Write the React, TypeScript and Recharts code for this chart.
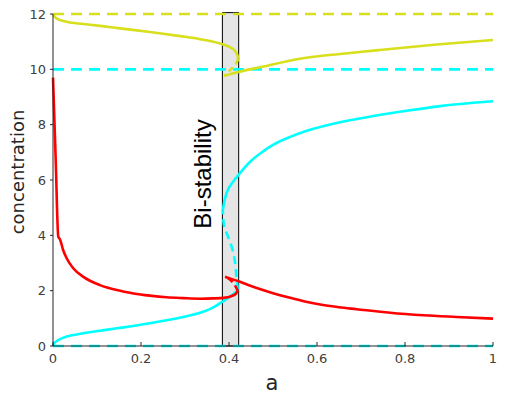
import { Line, LineChart, ReferenceArea, XAxis, YAxis } from 'recharts';

// bifurcation diagram, concentration vs a
const xTicks = [0, 0.2, 0.4, 0.6, 0.8, 1];
const yTicks = [0, 2, 4, 6, 8, 10, 12];

const redStableLowA = [0, 0.006, 0.012, 0.016, 0.023, 0.031, 0.046, 0.069, 0.107, 0.145, 0.183, 0.22, 0.258, 0.296, 0.334, 0.364, 0.387, 0.405, 0.415, 0.42];
const redStableLowC = [9.7, 6.8, 3.95, 3.85, 3.47, 3.17, 2.81, 2.5, 2.2, 2.02, 1.9, 1.82, 1.76, 1.73, 1.71, 1.72, 1.74, 1.8, 1.88, 2.0];
const redUnstableA = [0.42, 0.413, 0.402, 0.391];
const redUnstableC = [2.0, 2.2, 2.4, 2.5];
const redStableHighA = [0.391, 0.4, 0.425, 0.45, 0.47, 0.5, 0.539, 0.575, 0.614, 0.65, 0.69, 0.766, 0.842, 0.917, 1.0];
const redStableHighC = [2.5, 2.45, 2.32, 2.17, 2.06, 1.91, 1.74, 1.6, 1.48, 1.4, 1.33, 1.2, 1.11, 1.05, 0.99];

const cyanStableLowA = [0, 0.003, 0.008, 0.016, 0.031, 0.069, 0.107, 0.145, 0.182, 0.22, 0.258, 0.296, 0.334, 0.36, 0.38, 0.4, 0.41, 0.42];
const cyanStableLowC = [0, 0.1, 0.17, 0.25, 0.34, 0.46, 0.55, 0.64, 0.72, 0.82, 0.93, 1.05, 1.2, 1.36, 1.55, 1.75, 1.88, 2.02];
const cyanUnstableA = [0.42, 0.417, 0.414, 0.406, 0.395, 0.388, 0.386];
const cyanUnstableC = [2.02, 2.5, 2.99, 3.59, 4.07, 4.43, 4.9];
const cyanStableHighA = [0.386, 0.389, 0.395, 0.41, 0.425, 0.448, 0.47, 0.5, 0.539, 0.577, 0.652, 0.728, 0.803, 0.88, 0.955, 1.0];
const cyanStableHighC = [4.9, 5.2, 5.55, 5.95, 6.25, 6.66, 6.95, 7.27, 7.56, 7.78, 8.09, 8.31, 8.5, 8.67, 8.79, 8.85];

const yellowStableHighA = [0, 0.004, 0.008, 0.031, 0.069, 0.107, 0.152, 0.22, 0.289, 0.334, 0.38, 0.402, 0.413, 0.419, 0.421];
const yellowStableHighC = [12.0, 11.9, 11.84, 11.72, 11.64, 11.57, 11.48, 11.35, 11.2, 11.09, 10.93, 10.8, 10.68, 10.52, 10.38];
const yellowUnstableA = [0.421, 0.419, 0.41, 0.395, 0.389];
const yellowUnstableC = [10.38, 10.3, 10.1, 9.86, 9.76];
const yellowStableLowA = [0.389, 0.421, 0.478, 0.546, 0.607, 0.68, 0.743, 0.872, 1.0];
const yellowStableLowC = [9.76, 9.9, 10.1, 10.34, 10.48, 10.6, 10.7, 10.9, 11.06];

// limiting / trivial branches (unstable, dashed)
const flatA = [0, 1];
const yellowLimitC = [12, 12];
const cyanLimitC = [10, 10];
const cyanZeroC = [0, 0];

const bistableFrom = 0.385;
const bistableTo = 0.422;
const bistableTop = 12.05;

const pts = (a: number[], c: number[]) => a.map((v, i) => ({ a: v, c: c[i] }));

const RED = '#ff0000';
const CYAN = '#00ffff';
const YELLOW = '#d8df1c';
const AXIS = '#262626';

const XTick = (props: any) => {
  const { x, y, payload } = props;
  return (
    <g>
      <line x1={x} x2={x} y1={y} y2={y - 4} stroke={AXIS} />
      <text x={x} y={y + 17} textAnchor="middle" fontSize={13} fill="#404040" fontFamily="DejaVu Sans">
        {payload.value}
      </text>
    </g>
  );
};

const series = [
  { id: 'yl', a: flatA, c: yellowLimitC, color: YELLOW, dash: '11 7' },
  { id: 'cl', a: flatA, c: cyanLimitC, color: CYAN, dash: '11 7' },
  { id: 'cz', a: flatA, c: cyanZeroC, color: CYAN, dash: '11 7' },
  { id: 'ys1', a: yellowStableHighA, c: yellowStableHighC, color: YELLOW },
  { id: 'yu', a: yellowUnstableA, c: yellowUnstableC, color: YELLOW, dash: '6 4' },
  { id: 'ys2', a: yellowStableLowA, c: yellowStableLowC, color: YELLOW },
  { id: 'cs1', a: cyanStableLowA, c: cyanStableLowC, color: CYAN },
  { id: 'cu', a: cyanUnstableA, c: cyanUnstableC, color: CYAN, dash: '8 5' },
  { id: 'cs2', a: cyanStableHighA, c: cyanStableHighC, color: CYAN },
  { id: 'rs1', a: redStableLowA, c: redStableLowC, color: RED },
  { id: 'ru', a: redUnstableA, c: redUnstableC, color: RED, dash: '6 4' },
  { id: 'rs2', a: redStableHighA, c: redStableHighC, color: RED },
];

export default function App() {
  return (
    <div style={{ position: 'absolute', left: 0, top: 0 }}>
      <LineChart width={508} height={394} margin={{ top: 14, right: 15, left: 0, bottom: 0 }}>
        <ReferenceArea
          x1={bistableFrom}
          x2={bistableTo}
          y1={0}
          y2={bistableTop}
          fill="#e5e5e5"
          fillOpacity={1}
          stroke="#000"
          strokeWidth={1}
          ifOverflow="visible"
        />
        <XAxis
          dataKey="a"
          type="number"
          domain={[0, 1]}
          ticks={xTicks}
          height={48}
          tickSize={0}
          tickMargin={0}
          tick={<XTick />}
          stroke={AXIS}
          allowDuplicatedCategory={false}
        />
        <YAxis
          type="number"
          domain={[0, 12]}
          ticks={yTicks}
          width={53}
          tickSize={3}
          tickMargin={4}
          stroke={AXIS}
          tick={{ fontSize: 13, fill: '#404040', fontFamily: 'DejaVu Sans' }}
        />
        {series.map((s) => (
          <Line
            key={s.id}
            data={pts(s.a, s.c)}
            dataKey="c"
            type="monotone"
            stroke={s.color}
            strokeWidth={2.6}
            strokeDasharray={s.dash}
            dot={false}
            activeDot={false}
            isAnimationActive={false}
          />
        ))}
        <text x={272} y={390} textAnchor="middle" fontSize={21} fill="#262626" fontFamily="DejaVu Sans">
          a
        </text>
        <text
          transform="translate(24,172) rotate(-90)"
          textAnchor="middle"
          fontSize={18}
          fill="#262626"
          fontFamily="DejaVu Sans"
        >
          concentration
        </text>
        <text
          transform="translate(211,174) rotate(-90)"
          textAnchor="middle"
          fontSize={24}
          fill="#000"
          fontFamily="Liberation Sans"
        >
          Bi-stability
        </text>
      </LineChart>
    </div>
  );
}
